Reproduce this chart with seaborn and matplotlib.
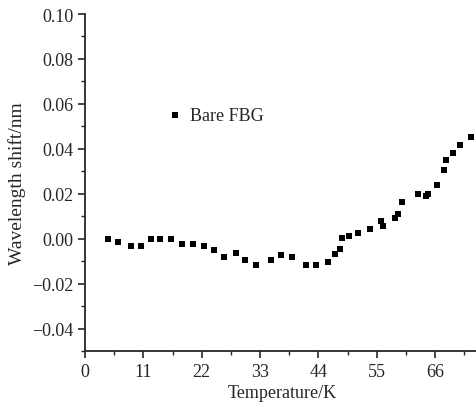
import numpy as np
import pandas as pd
import seaborn as sns
import matplotlib.pyplot as plt
from matplotlib.ticker import MultipleLocator

# values
temperature = [4.4, 6.3, 8.7, 10.6, 12.5, 14.2, 16.3, 18.3, 20.4, 22.4,
               24.3, 26.3, 28.4, 30.2, 32.3, 35.0, 36.9, 39.0, 41.7, 43.5,
               45.9, 47.1, 48.0, 48.4, 49.8, 51.4, 53.8, 55.8, 56.2, 58.4,
               59.0, 59.7, 62.7, 64.3, 64.7, 66.4, 67.7, 68.1, 69.3, 70.8,
               72.8]
shift = [0.0000, -0.0013, -0.0033, -0.0033, 0.0000, 0.0000, 0.0000, -0.0024,
         -0.0024, -0.0034, -0.0052, -0.0083, -0.0064, -0.0095, -0.0117,
         -0.0095, -0.0074, -0.0083, -0.0116, -0.0116, -0.0105, -0.0067,
         -0.0046, 0.0003, 0.0013, 0.0024, 0.0043, 0.0077, 0.0058, 0.0092,
         0.0110, 0.0162, 0.0200, 0.0189, 0.0198, 0.0240, 0.0307, 0.0349,
         0.0380, 0.0419, 0.0451]

df = pd.DataFrame({'Temperature/K': temperature, 'Wavelength shift/nm': shift})

sns.set_style('ticks')
plt.rcParams['font.family'] = ['Liberation Serif', 'DejaVu Serif']
plt.rcParams['axes.linewidth'] = 1.3

fig = plt.figure(figsize=(4.76, 4.06), dpi=100)
ax = fig.add_axes([0.1786, 0.133, 0.83, 0.83])

sns.scatterplot(data=df, x='Temperature/K', y='Wavelength shift/nm', ax=ax,
                marker='s', s=24, color='black', linewidth=0, label='Bare FBG')

ax.set_xlim(0, 74.5)
ax.set_ylim(-0.05, 0.10)
ax.xaxis.set_major_locator(MultipleLocator(11))
ax.xaxis.set_minor_locator(MultipleLocator(5.5))
ax.yaxis.set_major_locator(MultipleLocator(0.02))
ax.yaxis.set_minor_locator(MultipleLocator(0.01))
ax.yaxis.set_major_formatter(plt.FuncFormatter(lambda v, p: f'{v:.2f}'.replace('-', '\u2212')))
ax.tick_params(which='major', length=5, width=1.2, labelsize=13, direction='out')
ax.tick_params(which='minor', length=3, width=1.0, direction='out')
ax.set_xlabel('Temperature/K', fontsize=13, labelpad=3)
ax.set_ylabel('Wavelength shift/nm', fontsize=14, labelpad=4)
sns.despine(ax=ax)

ax.legend(loc='center left', bbox_to_anchor=(0.165, 0.70), frameon=False,
          fontsize=13, handlelength=1.0, handletextpad=0.3)

fig.savefig('out.png', dpi=100)
